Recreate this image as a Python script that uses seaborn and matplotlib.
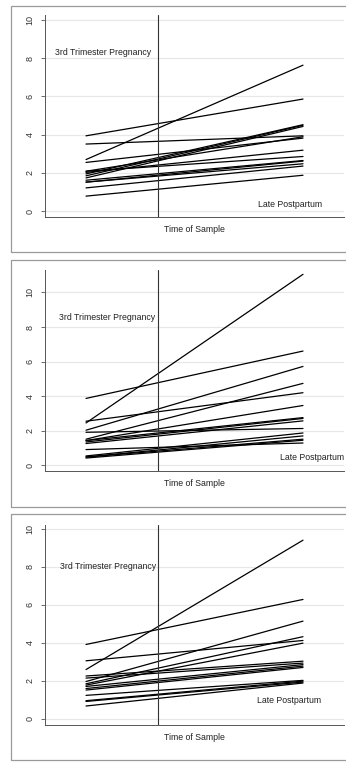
import matplotlib
matplotlib.use("Agg")
import matplotlib.pyplot as plt
import matplotlib.patches as patches
import numpy as np
import pandas as pd
import seaborn as sns

# values: pregnancy (start) and postpartum (end) per subject
p1_start = [2.70, 3.94, 3.51, 2.55, 1.95, 1.85, 1.74, 2.09, 2.03, 2.09, 1.62, 1.52, 1.52, 1.22, 0.79]
p1_end = [7.63, 5.86, 3.94, 3.82, 4.52, 4.49, 4.43, 3.89, 3.19, 2.86, 2.65, 2.62, 2.48, 2.36, 1.88]

p2_start = [2.45, 3.87, 2.03, 2.55, 1.51, 1.91, 1.43, 1.43, 1.35, 1.26, 0.91, 0.54, 0.48, 0.48, 0.42]
p2_end = [11.05, 6.61, 5.72, 4.20, 4.74, 2.13, 3.46, 2.76, 2.71, 2.57, 1.29, 1.87, 1.70, 1.51, 1.45]

p3_start = [2.59, 3.91, 1.96, 3.05, 1.84, 1.77, 2.25, 2.14, 1.70, 1.59, 1.51, 1.23, 0.95, 0.91, 0.67]
p3_end = [9.40, 6.28, 5.14, 4.12, 4.32, 3.98, 3.03, 2.93, 2.85, 2.77, 2.70, 2.02, 1.98, 1.93, 1.88]

yticks = [0, 2, 4, 6, 8, 10]
label_preg = "3rd Trimester Pregnancy"
label_post = "Late Postpartum"
xlab = "Time of Sample"

sns.set_style("white")
plt.rcParams['font.family'] = ['Liberation Sans', 'DejaVu Sans']

W, H = 346, 762
fig = plt.figure(figsize=(W / 100, H / 100), dpi=100)
fig.patch.set_facecolor("white")

# panel layout in pixels: box top/bottom, axes top/bottom, ylim, text positions
panels = [
    dict(start=p1_start, end=p1_end, box=(6, 252), ax=(15, 217), ylim=(-0.3, 10.25),
         preg=(-0.143, 8.27), post=(0.794, 0.35)),
    dict(start=p2_start, end=p2_end, box=(260, 507), ax=(270, 471), ylim=(-0.33, 11.3),
         preg=(-0.124, 8.56), post=(0.894, 0.48)),
    dict(start=p3_start, end=p3_end, box=(514, 760), ax=(525, 725), ylim=(-0.33, 10.2),
         preg=(-0.12, 8.02), post=(0.787, 0.95)),
]

for p in panels:
    btop, bbot = p['box']
    rect = patches.Rectangle((11 / W, 1 - bbot / H), 1.2, (bbot - btop) / H,
                             transform=fig.transFigure, fill=False,
                             edgecolor="#9a9a9a", lw=0.9, zorder=0)
    fig.patches.append(rect)

    atop, abot = p['ax']
    ax = fig.add_axes([45 / W, 1 - abot / H, (344 - 45) / W, (abot - atop) / H])
    ax.set_facecolor("white")

    n = len(p['start'])
    df = pd.DataFrame({
        'id': list(range(n)) * 2,
        'time': [0] * n + [1] * n,
        'value': p['start'] + p['end'],
    })
    sns.lineplot(data=df, x='time', y='value', units='id', estimator=None,
                 color='black', lw=0.9, ax=ax, legend=False)

    ax.axvline(0.332, color='#333333', lw=0.8)
    ax.set_xlim(-0.189, 1.189)
    ax.set_ylim(*p['ylim'])
    ax.set_yticks(yticks)
    ax.set_yticklabels([str(t) for t in yticks], rotation=90, va='center',
                       fontsize=6.5, color='#333333')
    ax.set_xticks([])
    ax.tick_params(axis='y', length=3, width=0.6, color='#555555', pad=4.5, left=True)
    for t in yticks:
        ax.axhline(t, color='#e8e8e8', lw=0.9, zorder=0)

    for s in ['top', 'right']:
        ax.spines[s].set_visible(False)
    for s in ['left', 'bottom']:
        ax.spines[s].set_color('#555555')
        ax.spines[s].set_linewidth(0.7)

    ax.set_xlabel(xlab, fontsize=6.3, labelpad=6, color='#222222')
    ax.set_ylabel("")
    ax.text(p['preg'][0], p['preg'][1], label_preg, fontsize=6.3, va='center', color='#222222')
    ax.text(p['post'][0], p['post'][1], label_post, fontsize=6.3, va='center', color='#222222')

fig.savefig("out.png", dpi=100, facecolor="white")
